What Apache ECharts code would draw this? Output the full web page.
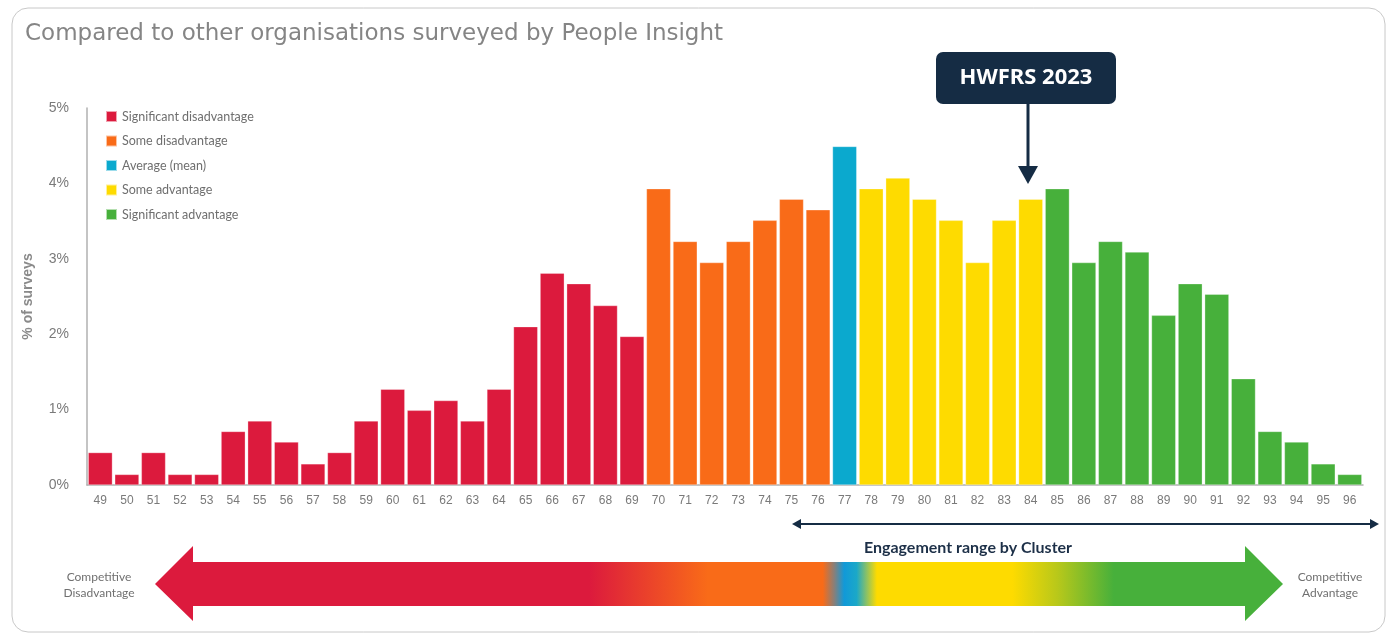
<!DOCTYPE html>
<html>
<head>
<meta charset="utf-8">
<script src="https://cdn.jsdelivr.net/npm/echarts@6/dist/echarts.min.js"></script>
<style>
html,body{margin:0;padding:0;background:#fff;}
#chart{width:1391px;height:634px;}
</style>
</head>
<body>
<div id="chart"></div>
<script>
// ---- Data ----
const categories = ['49','50','51','52','53','54','55','56','57','58','59','60','61','62','63','64','65','66','67','68','69','70','71','72','73','74','75','76','77','78','79','80','81','82','83','84','85','86','87','88','89','90','91','92','93','94','95','96'];
const values = [0.43,0.14,0.43,0.14,0.14,0.71,0.85,0.57,0.28,0.43,0.85,1.27,0.99,1.12,0.85,1.27,2.10,2.81,2.67,2.38,1.97,3.93,3.23,2.95,3.23,3.51,3.79,3.65,4.49,3.93,4.07,3.79,3.51,2.95,3.51,3.79,3.93,2.95,3.23,3.09,2.25,2.67,2.53,1.41,0.71,0.57,0.28,0.14];
const groupNames = ['Significant disadvantage','Some disadvantage','Average (mean)','Some advantage','Significant advantage'];
const groupStart = ['49','70','77','78','85'];   // first category of each group
const groupColors = ['#DC1A3D','#F96B18','#0BA9CE','#FEDB00','#47B03B'];
const yTicks = ['0%','1%','2%','3%','4%','5%'];
const markerCategory = '84';
const markerLabel = 'HWFRS 2023';

// ---- Build series ----
function groupOf(idx){
  let g = 0;
  for (let i = 0; i < groupStart.length; i++) {
    if (idx >= categories.indexOf(groupStart[i])) g = i;
  }
  return g;
}
const series = groupNames.map((name, g) => ({
  name: name,
  type: 'bar',
  stack: 'all',
  barCategoryGap: '9%',
  itemStyle: { color: groupColors[g], borderColor: 'rgba(255,255,255,0.6)', borderWidth: 0.5 },
  data: values.map((v, i) => groupOf(i) === g ? v : '-')
}));

const chart = echarts.init(document.getElementById('chart'));
const navy = '#152C44';
const gridLeft = 87, gridRight = 28, gridTop = 108, gridBottom = 149;

chart.setOption({
  animation: false,
  title: {
    text: 'Compared to other organisations surveyed by People Insight',
    left: 20, top: 18,
    textStyle: { fontFamily: 'DejaVu Sans', fontSize: 23, fontWeight: 'normal', color: '#858585' }
  },
  legend: {
    orient: 'vertical', left: 100, top: 105,
    icon: 'rect', itemWidth: 11, itemHeight: 11, itemGap: 11.5,
    textStyle: { fontFamily: 'Lato', fontSize: 12.5, color: '#6f6f6f' },
    data: groupNames
  },
  grid: { left: gridLeft, right: gridRight, top: gridTop, bottom: gridBottom },
  xAxis: {
    type: 'category',
    data: categories,
    axisLine: { lineStyle: { color: '#b0b0b0', width: 1.5 } },
    axisTick: { show: false },
    axisLabel: { fontFamily: 'Liberation Sans', fontSize: 12, color: '#7a7a7a', margin: 10, interval: 0 }
  },
  yAxis: {
    type: 'value', min: 0, max: 5, interval: 1,
    name: '% of surveys', nameLocation: 'middle', nameGap: 52, nameRotate: 90,
    nameTextStyle: { fontFamily: 'Liberation Sans', fontSize: 14, fontWeight: 'bold', color: '#8a8a8a' },
    axisLine: { show: true, lineStyle: { color: '#b0b0b0', width: 1.5 } },
    axisTick: { show: false },
    splitLine: { show: false },
    axisLabel: { fontFamily: 'Liberation Sans', fontSize: 14, color: '#7a7a7a', margin: 18,
      formatter: v => yTicks[Math.round(v)] }
  },
  series: series
});

// ---- Annotations ----
const mk = chart.convertToPixel({ xAxisIndex: 0, yAxisIndex: 0 }, [markerCategory, 0]);
const mx = Math.round(mk[0]) - 3;
const grad = new echarts.graphic.LinearGradient(0, 0, 1, 0, [
  { offset: 0.00, color: '#DC1A3D' },
  { offset: 0.385, color: '#DC1A3D' },
  { offset: 0.49, color: '#F96B18' },
  { offset: 0.592, color: '#F96B18' },
  { offset: 0.602, color: '#8a7f78' },
  { offset: 0.611, color: '#1199D8' },
  { offset: 0.622, color: '#1BA8C8' },
  { offset: 0.640, color: '#FEDB00' },
  { offset: 0.76, color: '#FEDB00' },
  { offset: 0.80, color: '#B8C81A' },
  { offset: 0.85, color: '#47B03B' },
  { offset: 1.00, color: '#47B03B' }
]);

chart.setOption({
  graphic: [
    { type: 'rect', shape: { x: 12, y: 8, width: 1373, height: 624, r: 16 },
      style: { fill: 'none', stroke: '#c8c8c8', lineWidth: 1 }, z: -10 },
    // marker box
    { type: 'rect', shape: { x: mx - 92, y: 52, width: 180, height: 52, r: 7 },
      style: { fill: navy }, z: 50 },
    { type: 'text', x: mx - 2, y: 78, style: { text: markerLabel, fill: '#fff', font: 'bold 22px "Noto Sans"', align: 'center', verticalAlign: 'middle' }, z: 51 },
    { type: 'line', shape: { x1: mx, y1: 104, x2: mx, y2: 168 }, style: { stroke: navy, lineWidth: 3 }, z: 50 },
    { type: 'polygon', shape: { points: [[mx - 10, 166], [mx + 10, 166], [mx, 184]] }, style: { fill: navy }, z: 50 },
    // engagement range arrow
    { type: 'line', shape: { x1: 798, y1: 524, x2: 1373, y2: 524 }, style: { stroke: navy, lineWidth: 2 } },
    { type: 'polygon', shape: { points: [[792, 524], [801, 519], [801, 529]] }, style: { fill: navy } },
    { type: 'polygon', shape: { points: [[1379, 524], [1370, 519], [1370, 529]] }, style: { fill: navy } },
    { type: 'text', x: 968, y: 548, style: { text: 'Engagement range by Cluster', fill: '#1d3048', font: 'bold 16px "Lato"', align: 'center', verticalAlign: 'middle' } },
    // big gradient arrow
    { type: 'polygon', shape: { points: [[155, 584], [193, 546], [193, 562], [1245, 562], [1245, 546], [1283, 584], [1245, 621], [1245, 606], [193, 606], [193, 621]] },
      style: { fill: grad } },
    { type: 'text', x: 99, y: 585, style: { text: 'Competitive\nDisadvantage', fill: '#707070', font: '12px "Lato"', align: 'center', verticalAlign: 'middle', lineHeight: 16 } },
    { type: 'text', x: 1330, y: 585, style: { text: 'Competitive\nAdvantage', fill: '#707070', font: '12px "Lato"', align: 'center', verticalAlign: 'middle', lineHeight: 16 } }
  ]
});
</script>
</body>
</html>
